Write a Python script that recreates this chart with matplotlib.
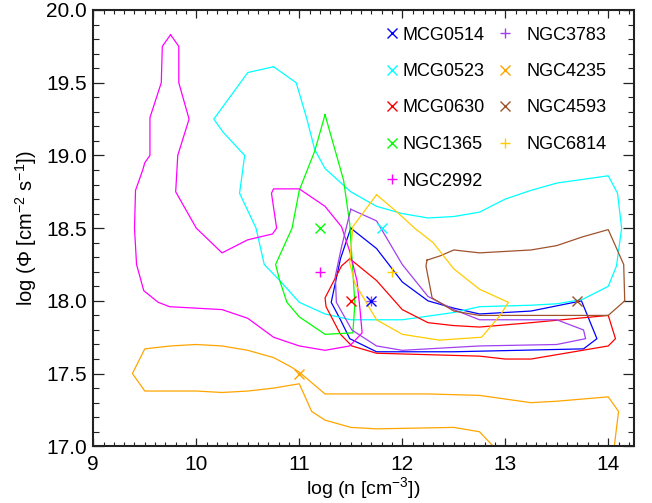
import matplotlib
matplotlib.use("Agg")
import matplotlib.pyplot as plt
from matplotlib.lines import Line2D
from matplotlib.ticker import MultipleLocator

plt.rcParams['font.family'] = ['Liberation Sans', 'DejaVu Sans']
plt.rcParams['mathtext.fontset'] = 'custom'
plt.rcParams['mathtext.rm'] = 'Liberation Sans'
plt.rcParams['mathtext.it'] = 'Liberation Sans:italic'
plt.rcParams['mathtext.bf'] = 'Liberation Sans:bold'

# ---------------- data ----------------
names = ["MCG0514", "MCG0523", "MCG0630", "NGC1365", "NGC2992",
         "NGC3783", "NGC4235", "NGC4593", "NGC6814"]
colors = ["#0000FF", "#00FFFF", "#FF0000", "#00FF00", "#FF00FF",
          "#A040F0", "#FFA500", "#A0522D", "#FFCC00"]
markers = ["x", "x", "x", "x", "+", "+", "x", "x", "+"]

# best-fit positions (log n, log Phi)
best_n = [11.7, 11.8, 11.5, 11.2, 11.2, 11.7, 11.0, 13.7, 11.9]
best_phi = [18.0, 18.5, 18.0, 18.5, 18.2, 18.0, 17.5, 18.0, 18.2]

# contour outlines (log n, log Phi)
mcg0514_n = [11.5, 11.75, 12.0, 12.25, 12.5, 12.75, 13.25, 13.74, 13.89, 13.76,
             12.5, 11.75, 11.49, 11.4, 11.31, 11.4, 11.5]
mcg0514_phi = [18.5, 18.36, 18.13, 18.0, 17.95, 17.91, 17.93, 18.0, 17.74, 17.67,
               17.65, 17.65, 17.74, 17.87, 17.99, 18.29, 18.5]

mcg0523_n = [10.75, 10.5, 10.17, 10.26, 10.47, 10.42, 10.58, 10.66, 10.81, 11.0,
             11.25, 11.5, 12.0, 12.5, 12.75, 13.25, 13.5, 13.75, 14.0, 14.08,
             14.13, 14.09, 14.0, 13.5, 13.25, 13.0, 12.75, 12.5, 12.25, 12.0,
             11.75, 11.5, 11.25, 11.15, 11.07, 10.97, 10.75]
mcg0523_phi = [19.61, 19.57, 19.25, 19.16, 19.0, 18.74, 18.5, 18.25, 18.14, 17.99,
               17.91, 17.87, 17.87, 17.92, 17.96, 17.97, 17.98, 18.01, 18.1, 18.24,
               18.5, 18.74, 18.86, 18.81, 18.76, 18.7, 18.61, 18.58, 18.57, 18.6,
               18.65, 18.75, 18.91, 19.04, 19.26, 19.5, 19.61]

mcg0630_n = [11.49, 11.75, 12.0, 12.25, 12.5, 12.75, 13.25, 14.0, 14.07, 14.0,
             13.75, 13.5, 13.25, 13.0, 12.75, 11.75, 11.51, 11.4, 11.26, 11.25,
             11.41, 11.49]
mcg0630_phi = [18.29, 18.14, 17.94, 17.85, 17.83, 17.82, 17.85, 17.9, 17.74, 17.69,
               17.66, 17.63, 17.6, 17.6, 17.62, 17.64, 17.69, 17.77, 17.96, 18.02,
               18.24, 18.29]

ngc1365_n = [11.25, 11.15, 11.0, 10.93, 10.77, 10.81, 10.88, 11.0, 11.25, 11.52,
             11.54, 11.49, 11.43, 11.25]
ngc1365_phi = [19.28, 19.03, 18.76, 18.5, 18.25, 18.14, 17.99, 17.89, 17.77, 17.78,
               17.98, 18.53, 18.83, 19.28]

ngc2992_n = [9.75, 9.83, 9.83, 9.93, 9.82, 9.8, 10.0, 10.25, 10.5, 10.74,
             10.78, 10.73, 10.75, 11.0, 11.25, 11.41, 11.49, 11.56, 11.59, 11.61,
             11.49, 11.25, 11.0, 10.75, 10.5, 10.25, 9.74, 9.63, 9.49, 9.42,
             9.4, 9.41, 9.48, 9.5, 9.55, 9.55, 9.66, 9.67, 9.75]
ngc2992_phi = [19.83, 19.75, 19.5, 19.25, 19.0, 18.75, 18.5, 18.33, 18.42, 18.46,
               18.5, 18.74, 18.77, 18.77, 18.65, 18.51, 18.34, 18.14, 17.94, 17.78,
               17.69, 17.66, 17.69, 17.75, 17.88, 17.94, 17.96, 17.99, 18.07, 18.25,
               18.5, 18.76, 18.9, 18.95, 19.0, 19.26, 19.5, 19.75, 19.83]

ngc3783_n = [11.5, 11.75, 12.0, 12.25, 12.5, 12.75, 13.5, 13.76, 13.78, 13.5,
             12.75, 12.0, 11.75, 11.51, 11.36, 11.35, 11.41, 11.5]
ngc3783_phi = [18.63, 18.55, 18.25, 18.03, 17.94, 17.87, 17.87, 17.8, 17.74, 17.7,
               17.69, 17.66, 17.69, 17.8, 17.99, 18.17, 18.37, 18.63]

ngc4235_n = [12.95, 12.75, 12.5, 11.75, 11.5, 11.25, 11.12, 11.0, 10.75, 10.5,
             10.25, 10.0, 9.5, 9.38, 9.5, 9.75, 10.0, 10.25, 10.5, 10.75,
             10.91, 11.0, 11.25, 11.75, 12.25, 12.75, 13.25, 13.5, 14.0, 14.1, 14.05]
ngc4235_phi = [16.95, 17.1, 17.13, 17.12, 17.13, 17.18, 17.24, 17.43, 17.4, 17.38,
               17.37, 17.38, 17.38, 17.5, 17.67, 17.69, 17.7, 17.69, 17.66, 17.61,
               17.55, 17.51, 17.36, 17.36, 17.36, 17.35, 17.3, 17.31, 17.34, 17.24, 16.95]

ngc4593_n = [12.24, 12.37, 12.5, 12.75, 13.25, 13.5, 13.75, 14.0, 14.15, 14.16,
             14.0, 12.75, 12.5, 12.29, 12.23, 12.24]
ngc4593_phi = [18.28, 18.31, 18.35, 18.33, 18.35, 18.38, 18.44, 18.49, 18.25, 18.0,
               17.9, 17.9, 17.93, 18.02, 18.24, 18.28]

ngc6814_n = [11.75, 11.95, 12.12, 12.3, 12.5, 12.75, 13.03, 12.95, 12.77, 12.36,
             12.0, 11.75, 11.54, 11.49, 11.52, 11.75]
ngc6814_phi = [18.73, 18.61, 18.5, 18.4, 18.22, 18.08, 17.99, 17.9, 17.75, 17.73,
               17.77, 17.87, 18.12, 18.26, 18.51, 18.73]

contours_n = [mcg0514_n, mcg0523_n, mcg0630_n, ngc1365_n, ngc2992_n,
              ngc3783_n, ngc4235_n, ngc4593_n, ngc6814_n]
contours_phi = [mcg0514_phi, mcg0523_phi, mcg0630_phi, ngc1365_phi, ngc2992_phi,
                ngc3783_phi, ngc4235_phi, ngc4593_phi, ngc6814_phi]

x_ticks = [9, 10, 11, 12, 13, 14]
y_ticks = [17.0, 17.5, 18.0, 18.5, 19.0, 19.5, 20.0]

# ---------------- figure ----------------
W, H = 652, 503
fig = plt.figure(figsize=(W / 100, H / 100), dpi=100)
ax = fig.add_axes([93.3 / W, 1 - 446.3 / H, (634 - 93.3) / W, (446.3 - 10) / H])

for xs, ys, c in zip(contours_n, contours_phi, colors):
    ax.plot(xs, ys, color=c, lw=0.9)

# draw markers (purple + under blue x to form asterisk)
order = [5, 0, 1, 2, 3, 4, 6, 7, 8]
for i in order:
    ax.plot(best_n[i], best_phi[i], linestyle='none', marker=markers[i],
            color=colors[i], markersize=7, mew=1.0)

ax.set_xlim(9, 14.25)
ax.set_ylim(17.0, 20.0)
ax.set_xticks(x_ticks)
ax.set_xticklabels([str(v) for v in x_ticks])
ax.set_yticks(y_ticks)
ax.set_yticklabels([f"{v:.1f}" for v in y_ticks])
ax.xaxis.set_minor_locator(MultipleLocator(0.1))
ax.yaxis.set_minor_locator(MultipleLocator(0.1))

ax.tick_params(which='both', direction='in', top=True, right=True, color='#222222')
ax.tick_params(axis='x', which='major', length=5.6, width=0.9, labelsize=15, pad=6.5)
ax.tick_params(axis='x', which='minor', length=2.9, width=0.8)
ax.tick_params(axis='y', which='major', length=7.8, width=0.9, labelsize=15, pad=4.5)
ax.tick_params(axis='y', which='minor', length=4.3, width=0.8)
for s in ax.spines.values():
    s.set_linewidth(1.5)
    s.set_color('#222222')

ax.set_xlabel('log (n [cm$^{-3}$])', fontsize=14, labelpad=0.5)
ax.set_ylabel('log (\u03a6 [cm$^{-2}$ s$^{-1}$])', fontsize=14.5, labelpad=5)

# ---------------- legend ----------------
rows_y = [33.3, 70, 106, 142.7, 179.3]
col_marker_x = [391.7, 505]
col_text_x = [402.7, 526.7]
for k, name in enumerate(names):
    col = 0 if k < 5 else 1
    row = k if k < 5 else k - 5
    yc = rows_y[row]
    fig.add_artist(Line2D([col_marker_x[col] / W], [1 - yc / H], transform=fig.transFigure,
                          marker=markers[k], color=colors[k], markersize=7, mew=1.0,
                          linestyle='none'))
    fig.text(col_text_x[col] / W, 1 - (yc + 6.3) / H, name, fontsize=13,
             ha='left', va='baseline', color='black')

fig.savefig('out.png', dpi=100)
